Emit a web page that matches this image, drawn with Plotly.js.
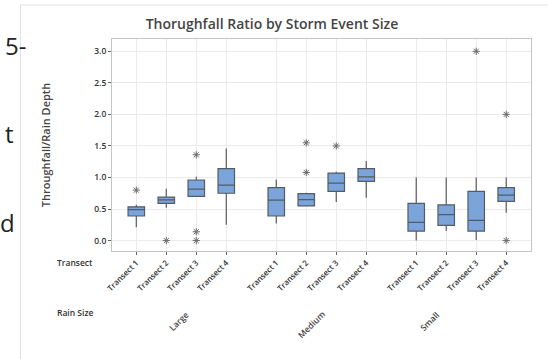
<!DOCTYPE html>
<html>
<head>
<meta charset="utf-8">
<script src="https://cdn.plot.ly/plotly-3.0.1.min.js"></script>
<style>
  html, body { margin: 0; padding: 0; background: #ffffff; }
  #chart { width: 548px; height: 359px; }
</style>
</head>
<body>
<div id="chart"></div>
<script>
// Rain-size groups and transects within each group
const rainSizes = ['Large', 'Medium', 'Small'];
const transects = ['Transect 1', 'Transect 2', 'Transect 3', 'Transect 4'];

// Box statistics, group-major order (Large T1..T4, Medium T1..T4, Small T1..T4)
const lowerWhisker = [0.21, 0.52, 0.69, 0.25,  0.27, 0.54, 0.61, 0.68,  0.00, 0.15, 0.01, 0.44];
const q1Values     = [0.39, 0.59, 0.70, 0.75,  0.39, 0.55, 0.78, 0.94,  0.15, 0.24, 0.15, 0.62];
const medianValues = [0.49, 0.645, 0.815, 0.88, 0.64, 0.65, 0.91, 1.01, 0.29, 0.41, 0.32, 0.72];
const q3Values     = [0.535, 0.69, 0.96, 1.14, 0.84, 0.745, 1.07, 1.14, 0.59, 0.565, 0.78, 0.84];
const upperWhisker = [0.57, 0.82, 1.01, 1.46,  0.97, 0.76, 1.09, 1.26,  1.00, 1.00, 1.00, 1.00];

// Outliers: index of the box each belongs to, and its value
const outlierBox   = [0,    1,    2,    2,    2,    5,    5,    6,    10,   11,   11];
const outlierValue = [0.80, 0.00, 1.36, 0.14, 0.00, 1.55, 1.08, 1.50, 3.00, 2.00, 0.00];

// Position of each box on the category axis (extra space between rain-size groups)
const groupGap = 2 / 3;
const positions = [];
const tickText = [];
rainSizes.forEach((g, gi) => {
  transects.forEach((t, ti) => {
    positions.push(gi * (transects.length + groupGap) + ti);
    tickText.push(t);
  });
});

const boxColor = '#7ba4db';
const lineColor = '#555b63';

const boxTrace = {
  type: 'box',
  x: positions,
  lowerfence: lowerWhisker,
  q1: q1Values,
  median: medianValues,
  q3: q3Values,
  upperfence: upperWhisker,
  width: 0.55,
  whiskerwidth: 0,
  fillcolor: boxColor,
  line: { color: lineColor, width: 1.2 },
  boxpoints: false,
  hoverinfo: 'skip',
  showlegend: false
};

const outlierTrace = {
  type: 'scatter',
  mode: 'markers',
  x: outlierBox.map(i => positions[i]),
  y: outlierValue,
  marker: { symbol: 'asterisk-open', size: 6, color: '#6a6a6a', line: { color: '#6a6a6a', width: 1 } },
  hoverinfo: 'skip',
  showlegend: false
};

const labelFont = { family: 'Open Sans, Noto Sans, sans-serif', size: 8.5, color: '#333', weight: 600 };
const groupFont = { family: 'Open Sans, Noto Sans, sans-serif', size: 8.5, color: '#444', weight: 600 };
const W = 548, H = 359;
const M = { l: 112, r: 17, t: 39, b: 108 };
const plotW = W - M.l - M.r, plotH = H - M.t - M.b;
// helpers converting page pixels to paper coordinates
const px = v => (v - M.l) / plotW;
const py = v => (H - M.b - v) / plotH;

const groupLabelCenters = [[178, 321], [311, 324], [429, 321]];

const annotations = [
  { text: 'Transect', x: px(55), y: py(262.5), xanchor: 'left', yanchor: 'middle' },
  { text: 'Rain Size', x: px(55), y: py(312.5), xanchor: 'left', yanchor: 'middle' }
].map(a => Object.assign({ xref: 'paper', yref: 'paper', showarrow: false, font: labelFont }, a));

rainSizes.forEach((g, gi) => {
  annotations.push({
    text: g, xref: 'paper', yref: 'paper',
    x: px(groupLabelCenters[gi][0]), y: py(groupLabelCenters[gi][1]),
    xanchor: 'center', yanchor: 'middle', textangle: -45,
    showarrow: false, font: groupFont
  });
});

// Neighbouring page text at the left edge
const edgeFont = { family: 'Open Sans, Noto Sans, sans-serif', size: 24, color: '#222' };
[['5-', 28, 45], ['t', 16, 133], ['d', 17, 222]].forEach(([t, xr, yc]) => {
  annotations.push({
    text: t, xref: 'paper', yref: 'paper', x: px(xr), y: py(yc),
    xanchor: 'right', yanchor: 'middle', showarrow: false, font: edgeFont
  });
});

const layout = {
  width: W,
  height: H,
  margin: M,
  paper_bgcolor: '#ffffff',
  plot_bgcolor: '#ffffff',
  title: {
    text: 'Thorughfall Ratio by Storm Event Size',
    x: 272 / W, xanchor: 'center',
    y: 1 - 24 / H, yanchor: 'middle',
    font: { family: 'Open Sans, Noto Sans, sans-serif', size: 14, color: '#444', weight: 600 }
  },
  xaxis: {
    type: 'linear',
    range: [-0.81, 13.16],
    tickvals: positions,
    ticktext: tickText,
    tickangle: -45,
    ticks: 'outside', ticklen: 3, tickcolor: '#666',
    tickfont: { family: 'Open Sans, Noto Sans, sans-serif', size: 8, color: '#333', weight: 600 },
    showgrid: true, gridcolor: '#ebebeb', gridwidth: 1,
    showline: true, linecolor: '#c4c4c4', linewidth: 1, mirror: true,
    zeroline: false
  },
  yaxis: {
    range: [-0.165, 3.195],
    tickvals: [0, 0.5, 1, 1.5, 2, 2.5, 3],
    tickformat: '.1f',
    ticks: 'outside', ticklen: 3, tickcolor: '#666',
    tickfont: { family: 'Open Sans, Noto Sans, sans-serif', size: 8.5, color: '#333', weight: 600 },
    showgrid: true, gridcolor: '#ebebeb', gridwidth: 1,
    showline: true, linecolor: '#c4c4c4', linewidth: 1, mirror: true,
    zeroline: false,
    title: {
      text: 'Throughfall/Rain Depth',
      standoff: 41,
      font: { family: 'Open Sans, Noto Sans, sans-serif', size: 11, color: '#444', weight: 600 }
    }
  },
  shapes: [
    // outer frame of the figure panel
    { type: 'line', xref: 'paper', yref: 'paper', x0: px(20.5), x1: px(20.5), y0: py(5), y1: py(H), line: { color: '#e2e2e2', width: 1 } },
    { type: 'line', xref: 'paper', yref: 'paper', x0: px(20.5), x1: px(W), y0: py(5), y1: py(5), line: { color: '#e2e2e2', width: 1 } }
  ],
  annotations: annotations
};

Plotly.newPlot('chart', [boxTrace, outlierTrace], layout, { staticPlot: true, displayModeBar: false });
</script>
</body>
</html>
